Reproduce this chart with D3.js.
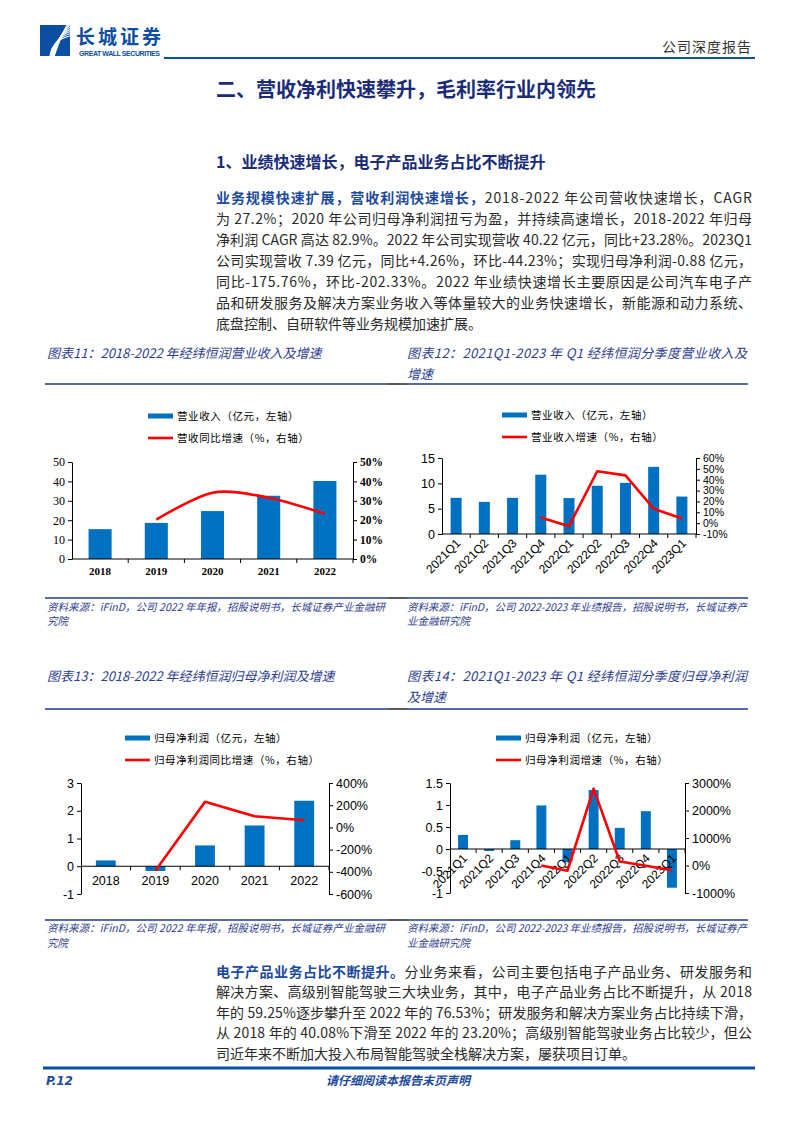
<!DOCTYPE html>
<html>
<head>
<meta charset="utf-8">
<script src="https://cdn.jsdelivr.net/npm/d3@7"></script>
<style>
body { margin: 0; background: #fff; }
#page { position: relative; width: 794px; height: 1123px; overflow: hidden; font-family: "Noto Sans CJK SC", sans-serif; }
#svg { position: absolute; left: 0; top: 0; }
.ln { position: absolute; left: 216px; white-space: nowrap; font-size: 14px; line-height: 21px; color: #2a2a2a; }
.lead { color: #1c4a9c; font-weight: bold; }
</style>
</head>
<body>
<div id="page"><svg id="svg" width="794" height="1123"></svg></div>
<script>
// ---- data ----
const years = ["2018", "2019", "2020", "2021", "2022"];
const revenue = [15.4, 18.6, 24.7, 32.6, 40.22];
const revenueGrowth = [null, 20.3, 34.2, 31.6, 23.28];
const quarters = ["2021Q1", "2021Q2", "2021Q3", "2021Q4", "2022Q1", "2022Q2", "2022Q3", "2022Q4", "2023Q1"];
const qRevenue = [7.14, 6.34, 7.14, 11.7, 7.09, 9.52, 10.1, 13.25, 7.39];
const qRevenueGrowth = [null, null, null, 5.2, -2.8, 47.8, 44.0, 13.3, 4.26];
const netProfit = [0.21, -0.17, 0.75, 1.47, 2.36];
const netProfitGrowth = [null, -390, 230, 100, 65];
const qNetProfit = [0.32, -0.045, 0.2, 0.99, -0.3, 1.34, 0.48, 0.86, -0.88];
const qNetProfitGrowth = [null, null, null, 0, -190, 2795, 145, -10, -175.76];

const ticks11L = [0, 10, 20, 30, 40, 50], ticks11R = [0, 10, 20, 30, 40, 50];
const ticks12L = [0, 5, 10, 15], ticks12R = [-10, 0, 10, 20, 30, 40, 50, 60];
const ticks13L = [-1, 0, 1, 2, 3], ticks13R = [-600, -400, -200, 0, 200, 400];
const ticks14L = [-1, -0.5, 0, 0.5, 1, 1.5], ticks14R = [-1000, 0, 1000, 2000, 3000];

const para1 = [
    ["业务规模快速扩展，营收利润快速增长，", "2018-2022 年公司营收快速增长，CAGR"],
    ["", "为 27.2%；2020 年公司归母净利润扭亏为盈，并持续高速增长，2018-2022 年归母"],
    ["", "净利润 CAGR 高达 82.9%。2022 年公司实现营收 40.22 亿元，同比+23.28%。2023Q1"],
    ["", "公司实现营收 7.39 亿元，同比+4.26%，环比-44.23%；实现归母净利润-0.88 亿元，"],
    ["", "同比-175.76%，环比-202.33%。2022 年业绩快速增长主要原因是公司汽车电子产"],
    ["", "品和研发服务及解决方案业务收入等体量较大的业务快速增长，新能源和动力系统、"],
    ["", "底盘控制、自研软件等业务规模加速扩展。"]
];
const para2 = [
    ["电子产品业务占比不断提升。", "分业务来看，公司主要包括电子产品业务、研发服务和"],
    ["", "解决方案、高级别智能驾驶三大块业务，其中，电子产品业务占比不断提升，从 2018"],
    ["", "年的 59.25%逐步攀升至 2022 年的 76.53%；研发服务和解决方案业务占比持续下滑，"],
    ["", "从 2018 年的 40.08%下滑至 2022 年的 23.20%；高级别智能驾驶业务占比较少，但公"],
    ["", "司近年来不断加大投入布局智能驾驶全栈解决方案，屡获项目订单。"]
];

const BLUE = "#0070c0", RED = "#ff0000", NAVY = "#1f3a8a", CAP = "#2d408e";
const page = document.getElementById("page");
const svg = d3.select("#svg");

// ---- paragraphs, each line stretched to the column width ----
function paragraph(lines, top, step) {
    lines.forEach((l, i) => {
        const div = document.createElement("div");
        div.className = "ln";
        div.style.top = (top + i * step - 10.5) + "px";
        const wrap = document.createElement("span");
        if (l[0]) {
            const b = document.createElement("span");
            b.className = "lead"; b.textContent = l[0];
            wrap.appendChild(b);
        }
        wrap.appendChild(document.createTextNode(l[1]));
        div.appendChild(wrap);
        page.appendChild(div);
        if (i < lines.length - 1) {
            const w = wrap.getBoundingClientRect().width;
            const n = (l[0] + l[1]).length;
            wrap.style.letterSpacing = ((536 - w) / (n - 1)) + "px";
        }
    });
}
paragraph(para1, 197, 21);
paragraph(para2, 971, 20.5);

// ---- header ----
svg.append("rect").attr("x", 40).attr("y", 25).attr("width", 30).attr("height", 31).attr("fill", "#0b4ea2");
for (let i = 0; i < 8; i++) {
    svg.append("path")
        .attr("d", `M ${50 + i * 0.6} 56 Q ${52 + i * 1.6} ${40 - i * 1.5} ${70} ${36 - i * 2.2}`)
        .attr("fill", "none").attr("stroke", "#fff").attr("stroke-width", 1.1);
}
svg.append("text").attr("x", 76).attr("y", 44).attr("font-size", 19).attr("font-weight", "bold")
    .attr("letter-spacing", 3).attr("fill", "#0b4ea2").text("长城证券");
svg.append("text").attr("x", 79).attr("y", 56).attr("font-size", 7).attr("font-weight", "bold")
    .attr("font-family", "Liberation Sans").attr("fill", "#0b4ea2").attr("textLength", 81).text("GREAT WALL SECURITIES");
svg.append("line").attr("x1", 164).attr("x2", 755).attr("y1", 58).attr("y2", 58).attr("stroke", "#0b4ea2").attr("stroke-width", 2);
svg.append("text").attr("x", 752).attr("y", 52).attr("text-anchor", "end").attr("font-size", 14)
    .attr("letter-spacing", 1).attr("fill", "#333").text("公司深度报告");

svg.append("text").attr("x", 216).attr("y", 97).attr("font-size", 20).attr("font-weight", "bold")
    .attr("fill", "#1a2c78").text("二、营收净利快速攀升，毛利率行业内领先");
svg.append("text").attr("x", 216).attr("y", 168).attr("font-size", 16).attr("font-weight", "bold")
    .attr("fill", "#1a2c78").text("1、业绩快速增长，电子产品业务占比不断提升");

// ---- footer ----
svg.append("line").attr("x1", 43).attr("x2", 755).attr("y1", 1068).attr("y2", 1068).attr("stroke", "#0b4ea2").attr("stroke-width", 3);
svg.append("text").attr("x", 46).attr("y", 1085).attr("font-size", 12).attr("font-weight", "bold").attr("font-style", "italic")
    .attr("font-family", "DejaVu Sans").attr("fill", "#1c4a9c").text("P.12");
svg.append("text").attr("x", 398).attr("y", 1085).attr("text-anchor", "middle").attr("font-size", 12).attr("font-weight", "bold")
    .attr("font-style", "italic").attr("fill", "#1c4a9c").text("请仔细阅读本报告末页声明");

// ---- captions, rules, sources ----
function rule(y) {
    svg.append("line").attr("x1", 45).attr("x2", 388).attr("y1", y).attr("y2", y).attr("stroke", NAVY).attr("stroke-width", 1.3);
    svg.append("line").attr("x1", 388).attr("x2", 407).attr("y1", y).attr("y2", y).attr("stroke", "#000").attr("stroke-width", 1.3);
    svg.append("line").attr("x1", 407).attr("x2", 748).attr("y1", y).attr("y2", y).attr("stroke", NAVY).attr("stroke-width", 1.3);
}
function cap(x, y, s, size, len) {
    const t = svg.append("text").attr("x", x).attr("y", y).attr("font-size", size).attr("font-style", "italic")
        .attr("fill", CAP).text(s);
    if (len) t.attr("textLength", len).attr("lengthAdjust", "spacing");
}
rule(384); rule(598); rule(709); rule(920);
cap(47, 358, "图表11：2018-2022 年经纬恒润营业收入及增速", 13);
cap(407, 358, "图表12：2021Q1-2023 年 Q1 经纬恒润分季度营业收入及", 13, 340);
cap(407, 379, "增速", 13);
cap(47, 681, "图表13：2018-2022 年经纬恒润归母净利润及增速", 13);
cap(407, 681, "图表14：2021Q1-2023 年 Q1 经纬恒润分季度归母净利润", 13, 340);
cap(407, 702, "及增速", 13);
cap(47, 611, "资料来源：iFinD，公司 2022 年年报，招股说明书，长城证券产业金融研", 10.5, 338);
cap(47, 625, "究院", 10.5);
cap(407, 611, "资料来源：iFinD，公司 2022-2023 年业绩报告，招股说明书，长城证券产", 10.5, 340);
cap(407, 625, "业金融研究院", 10.5);
cap(47, 932, "资料来源：iFinD，公司 2022 年年报，招股说明书，长城证券产业金融研", 10.5, 338);
cap(47, 947, "究院", 10.5);
cap(407, 932, "资料来源：iFinD，公司 2022-2023 年业绩报告，招股说明书，长城证券产", 10.5, 340);
cap(407, 947, "业金融研究院", 10.5);

// ---- bar + line combo chart ----
function combo(o) {
    const g = svg.append("g");
    const x = d3.scaleBand().domain(o.cats).range([o.left, o.right]);
    const yL = d3.scaleLinear().domain(o.lDomain).range([o.bottom, o.top]);
    const yR = d3.scaleLinear().domain(o.rDomain).range([o.bottom, o.top]);
    const bw = x.bandwidth();
    const y0 = yL(0);

    // legend
    g.append("rect").attr("x", o.legX).attr("y", o.legY - 2.5).attr("width", 25).attr("height", 5).attr("fill", BLUE);
    g.append("line").attr("x1", o.legX).attr("x2", o.legX + 25).attr("y1", o.legY + 22).attr("y2", o.legY + 22)
        .attr("stroke", RED).attr("stroke-width", 2.6);
    [o.legBar, o.legLine].forEach((s, i) => {
        g.append("text").attr("x", o.legX + 29).attr("y", o.legY + 4 + i * 22).attr("font-size", 10.5)
            .attr("letter-spacing", 0.6).attr("fill", "#000").text(s);
    });

    // bars
    g.selectAll("rect.bar").data(o.cats.map((c, i) => ({c, v: o.bars[i]}))).join("rect")
        .attr("class", "bar")
        .attr("x", d => x(d.c) + bw * (1 - o.barRatio) / 2).attr("width", bw * o.barRatio)
        .attr("y", d => yL(Math.max(0, d.v))).attr("height", d => Math.abs(yL(d.v) - y0))
        .attr("fill", BLUE);

    // axes
    const styleAxis = (sel, font, size, weight) => {
        sel.attr("font-family", font).attr("font-size", size).attr("font-weight", weight || "normal");
        sel.select(".domain").attr("stroke", "#000");
        sel.selectAll(".tick line").attr("stroke", "#000");
        sel.selectAll(".tick text").attr("fill", "#000");
    };
    g.append("g").attr("transform", `translate(${o.left},0)`)
        .call(d3.axisLeft(yL).tickValues(o.lTicks).tickSize(4).tickSizeOuter(0).tickPadding(3).tickFormat(d => String(d)))
        .call(s => styleAxis(s, o.font, o.lSize));
    g.append("g").attr("transform", `translate(${o.right},0)`)
        .call(d3.axisRight(yR).tickValues(o.rTicks).tickSize(4).tickSizeOuter(0).tickPadding(3).tickFormat(d => d + "%"))
        .call(s => styleAxis(s, o.font, o.rSize, o.rWeight));

    // category axis at zero
    g.append("line").attr("x1", o.left).attr("x2", o.right).attr("y1", y0).attr("y2", y0).attr("stroke", "#000");
    const bounds = o.cats.slice(1).map(c => x(c)).concat([o.right]);
    g.selectAll("line.xt").data(bounds).join("line").attr("class", "xt")
        .attr("x1", d => d).attr("x2", d => d).attr("y1", y0).attr("y2", y0 + 4).attr("stroke", "#000");
    const lab = g.selectAll("text.xl").data(o.cats).join("text").attr("class", "xl")
        .attr("font-family", o.font).attr("font-size", o.xSize).attr("font-weight", o.xWeight || "normal")
        .attr("fill", "#000").text(d => d);
    if (o.rotate) {
        lab.attr("text-anchor", "end")
            .attr("transform", d => `translate(${x(d) + bw / 2 + 5},${y0 + 10}) rotate(-45)`);
    } else {
        lab.attr("text-anchor", "middle").attr("x", d => x(d) + bw / 2).attr("y", y0 + o.xDy);
    }

    // growth line
    const pts = o.cats.map((c, i) => ({c, v: o.line[i]})).filter(d => d.v != null);
    g.append("path").datum(pts)
        .attr("d", d3.line().x(d => x(d.c) + bw / 2).y(d => yR(d.v)).curve(o.curve || d3.curveLinear))
        .attr("fill", "none").attr("stroke", RED).attr("stroke-width", 2.6).attr("stroke-linejoin", "round");
}

combo({
    cats: years, bars: revenue, line: revenueGrowth,
    left: 72, right: 353, top: 462, bottom: 559,
    lDomain: [0, 50], rDomain: [0, 50], lTicks: ticks11L, rTicks: ticks11R,
    font: "Liberation Serif", lSize: 12, rSize: 11.5, rWeight: "bold", xSize: 11, xWeight: "bold", xDy: 16,
    barRatio: 0.41, curve: d3.curveCardinal.tension(0.1),
    legX: 148, legY: 416, legBar: "营业收入（亿元，左轴）", legLine: "营收同比增速（%，右轴）"
});
combo({
    cats: quarters, bars: qRevenue, line: qRevenueGrowth,
    left: 442, right: 696, top: 458, bottom: 534,
    lDomain: [0, 15], rDomain: [-10, 60], lTicks: ticks12L, rTicks: ticks12R,
    font: "Liberation Sans", lSize: 12.5, rSize: 10.5, xSize: 12, rotate: true,
    barRatio: 0.39,
    legX: 502, legY: 415, legBar: "营业收入（亿元，左轴）", legLine: "营业收入增速（%，右轴）"
});
combo({
    cats: years, bars: netProfit, line: netProfitGrowth,
    left: 81, right: 329, top: 783, bottom: 894,
    lDomain: [-1, 3], rDomain: [-600, 400], lTicks: ticks13L, rTicks: ticks13R,
    font: "Liberation Sans", lSize: 12.5, rSize: 12.5, xSize: 12.5, xDy: 19,
    barRatio: 0.4,
    legX: 125, legY: 738, legBar: "归母净利润（亿元，左轴）", legLine: "归母净利润同比增速（%，右轴）"
});
combo({
    cats: quarters, bars: qNetProfit, line: qNetProfitGrowth,
    left: 450, right: 685, top: 783, bottom: 893,
    lDomain: [-1, 1.5], rDomain: [-1000, 3000], lTicks: ticks14L, rTicks: ticks14R,
    font: "Liberation Sans", lSize: 12.5, rSize: 12.5, xSize: 12, rotate: true,
    barRatio: 0.38,
    legX: 496, legY: 738, legBar: "归母净利润（亿元，左轴）", legLine: "归母净利润增速（%，右轴）"
});
</script>
</body>
</html>
